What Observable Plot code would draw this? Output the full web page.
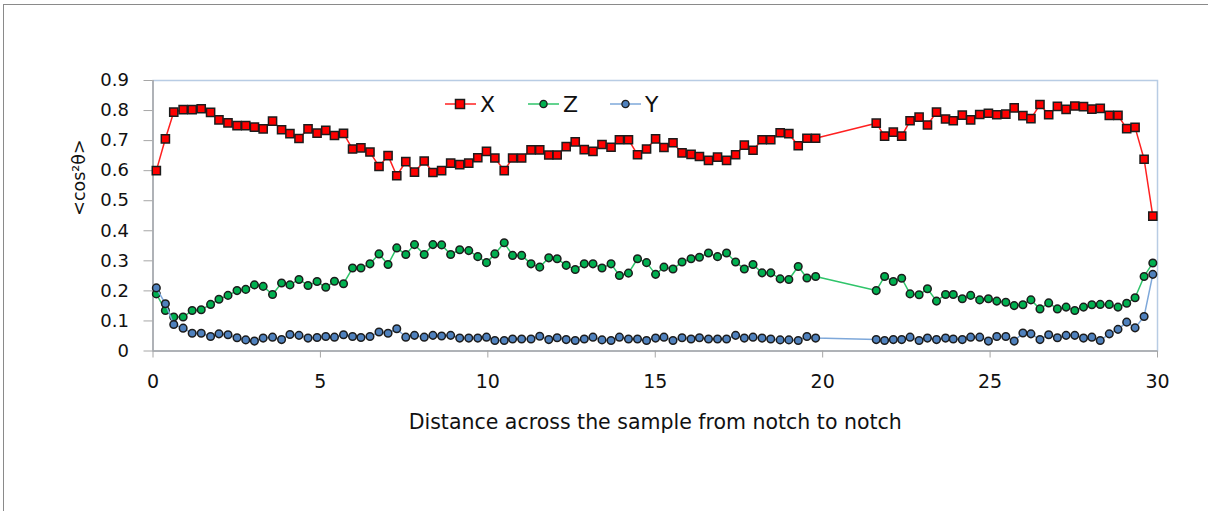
<!DOCTYPE html>
<html><head><meta charset="utf-8">
<script src="https://cdn.jsdelivr.net/npm/d3@7"></script>
<script src="https://cdn.jsdelivr.net/npm/@observablehq/plot@0.6"></script>
<style>
html,body{margin:0;padding:0;background:#fff;overflow:hidden;width:1208px;height:511px}
#wrap{position:relative;width:1208px;height:511px;overflow:hidden}
#border{position:absolute;left:3px;top:4px;width:1300px;height:700px;border:1px solid #8a8a8a;box-sizing:border-box}
#chart{position:absolute;left:0;top:0}
#legend{position:absolute;left:440px;top:88px}
</style></head>
<body><div id="wrap"><div id="border"></div><div id="chart"></div><svg id="legend" width="240" height="32"></svg></div>
<script>
const dist = [0.10,0.37,0.62,0.90,1.17,1.44,1.72,1.97,2.24,2.51,2.77,3.03,3.29,3.57,3.84,4.09,4.36,4.63,4.90,5.16,5.42,5.69,5.96,6.21,6.48,6.75,7.02,7.28,7.55,7.81,8.10,8.36,8.62,8.89,9.16,9.43,9.70,9.96,10.21,10.49,10.74,11.01,11.29,11.55,11.82,12.07,12.34,12.61,12.88,13.14,13.41,13.68,13.93,14.20,14.47,14.74,15.01,15.26,15.53,15.80,16.07,16.32,16.59,16.86,17.13,17.40,17.66,17.92,18.19,18.45,18.73,18.99,19.27,19.53,19.79,
21.60,21.85,22.11,22.36,22.61,22.88,23.13,23.40,23.67,23.90,24.17,24.42,24.69,24.95,25.20,25.47,25.72,25.98,26.22,26.49,26.75,27.01,27.27,27.53,27.79,28.04,28.29,28.56,28.82,29.08,29.33,29.60,29.86];

const seriesX = [0.600,0.706,0.795,0.803,0.803,0.806,0.794,0.769,0.759,0.750,
0.750,0.745,0.739,0.765,0.736,0.723,0.707,0.739,0.725,0.734,
0.717,0.724,0.672,0.676,0.662,0.614,0.650,0.583,0.630,0.595,
0.632,0.594,0.600,0.625,0.620,0.625,0.643,0.664,0.642,0.600,
0.642,0.642,0.669,0.669,0.652,0.652,0.680,0.696,0.670,0.664,
0.687,0.678,0.703,0.703,0.653,0.672,0.706,0.677,0.693,0.659,
0.654,0.647,0.634,0.645,0.634,0.653,0.685,0.668,0.703,0.703,
0.726,0.723,0.683,0.708,0.708,
0.758,0.715,0.728,0.715,0.766,0.778,0.752,0.795,0.772,0.766,
0.785,0.769,0.787,0.791,0.786,0.788,0.809,0.783,0.773,0.820,
0.786,0.814,0.804,0.815,0.813,0.805,0.807,0.784,0.784,0.740,
0.744,0.638,0.449];

const seriesZ = [0.190,0.135,0.113,0.113,0.135,0.137,0.155,0.172,0.185,0.201,
0.205,0.220,0.215,0.188,0.226,0.220,0.238,0.218,0.231,0.212,
0.232,0.224,0.276,0.276,0.290,0.323,0.288,0.343,0.321,0.354,
0.321,0.354,0.353,0.321,0.337,0.334,0.314,0.294,0.323,0.360,
0.318,0.318,0.290,0.279,0.310,0.307,0.285,0.271,0.290,0.290,
0.276,0.290,0.251,0.259,0.307,0.294,0.255,0.279,0.273,0.296,
0.307,0.312,0.326,0.314,0.326,0.296,0.273,0.288,0.260,0.260,
0.240,0.238,0.281,0.243,0.248,
0.201,0.248,0.231,0.242,0.190,0.187,0.207,0.166,0.188,0.188,
0.174,0.185,0.170,0.174,0.166,0.162,0.151,0.154,0.170,0.140,
0.160,0.140,0.146,0.135,0.146,0.154,0.155,0.155,0.146,0.159,
0.177,0.248,0.293];

const seriesY = [0.210,0.157,0.088,0.076,0.059,0.059,0.048,0.057,0.054,0.044,
0.037,0.033,0.043,0.046,0.038,0.055,0.052,0.043,0.045,0.048,
0.046,0.054,0.048,0.045,0.048,0.063,0.059,0.074,0.046,0.052,
0.046,0.052,0.050,0.052,0.043,0.043,0.043,0.046,0.035,0.035,
0.040,0.040,0.040,0.049,0.038,0.044,0.038,0.035,0.040,0.046,
0.037,0.035,0.046,0.040,0.040,0.035,0.043,0.046,0.035,0.044,
0.040,0.044,0.040,0.040,0.040,0.052,0.043,0.046,0.043,0.040,
0.037,0.037,0.035,0.048,0.043,
0.038,0.035,0.038,0.038,0.046,0.035,0.043,0.038,0.043,0.040,
0.038,0.046,0.046,0.033,0.048,0.048,0.033,0.060,0.057,0.038,
0.054,0.044,0.052,0.052,0.043,0.046,0.035,0.057,0.072,0.096,
0.077,0.115,0.255];

const xTicks = [0,5,10,15,20,25,30];
const yTicks = [0,0.1,0.2,0.3,0.4,0.5,0.6,0.7,0.8,0.9];
const seriesNames = ["X","Z","Y"];
const markerFill = ["#ff0000","#00b050","#4f81bd"];
const lineColor = ["#ff2020","#2fc46a","#7ea8da"];
const symbols = ["square","circle","circle"];
const xTitle = "Distance across the sample from notch to notch";
const yTitle = "<cos²θ>";

const rows = dist.map((d,i)=>({d, X:seriesX[i], Z:seriesZ[i], Y:seriesY[i]}));

const marks = [
  Plot.frame({stroke:"#b8cce4", strokeWidth:1.5}),
  Plot.ruleX([xTicks[0]], {stroke:"#a6a6a6", strokeWidth:1.5}),
  Plot.ruleY([yTicks[0]], {stroke:"#a6a6a6", strokeWidth:1.5}),
  Plot.axisY(yTicks, {tickSize:9, tickPadding:15, stroke:"#a6a6a6", fill:"#111", fontSize:18,
    tickFormat:d=> d===0 ? "0" : d.toFixed(1), label:null}),
  Plot.axisX(xTicks, {tickSize:7, tickPadding:16, stroke:"#a6a6a6", fill:"#111", fontSize:19,
    tickFormat:d=>String(d), label:null}),
  Plot.text([xTitle], {frameAnchor:"bottom", lineAnchor:"middle", dy:71.5, fontSize:20.5, fill:"#111"}),
  Plot.text([yTitle], {frameAnchor:"left", dx:-74, rotate:-90, fontSize:17.5, fill:"#111"})
];
seriesNames.forEach((s,k)=>{
  marks.push(Plot.line(rows, {x:"d", y:s, stroke:lineColor[k], strokeWidth:1.5}));
  marks.push(Plot.dot(rows, {x:"d", y:s, symbol:symbols[k], r: k===0?4.6:3.8,
    fill:markerFill[k], stroke:"#1c1c1c", strokeWidth:1.5}));
});

const chart = Plot.plot({
  width:1208, height:511,
  marginLeft:152.5, marginRight:51, marginTop:80, marginBottom:160.5,
  x:{domain:[0,30]}, y:{domain:[0,0.9]},
  style:{fontFamily:"DejaVu Sans", background:"transparent"},
  marks
});
document.getElementById("chart").appendChild(chart);

// legend
const lg = d3.select("#legend");
const offs = [0, 83, 165];
seriesNames.forEach((s,k)=>{
  const g = lg.append("g").attr("transform", `translate(${offs[k]+5},16)`);
  g.append("line").attr("x1",0).attr("x2",31).attr("y1",0).attr("y2",0)
    .attr("stroke", lineColor[k]).attr("stroke-width",1.5);
  if (symbols[k]==="square") {
    g.append("rect").attr("x",10.5).attr("y",-4.5).attr("width",9).attr("height",9)
      .attr("fill",markerFill[k]).attr("stroke","#1c1c1c").attr("stroke-width",1.5);
  } else {
    g.append("circle").attr("cx",15.5).attr("cy",0).attr("r",3.6)
      .attr("fill",markerFill[k]).attr("stroke","#1c1c1c").attr("stroke-width",1.3);
  }
  g.append("text").attr("x",35).attr("y",0).attr("dy","0.36em")
    .attr("font-family","DejaVu Sans").attr("font-size",22).attr("fill","#111").text(s);
});
</script></body></html>
